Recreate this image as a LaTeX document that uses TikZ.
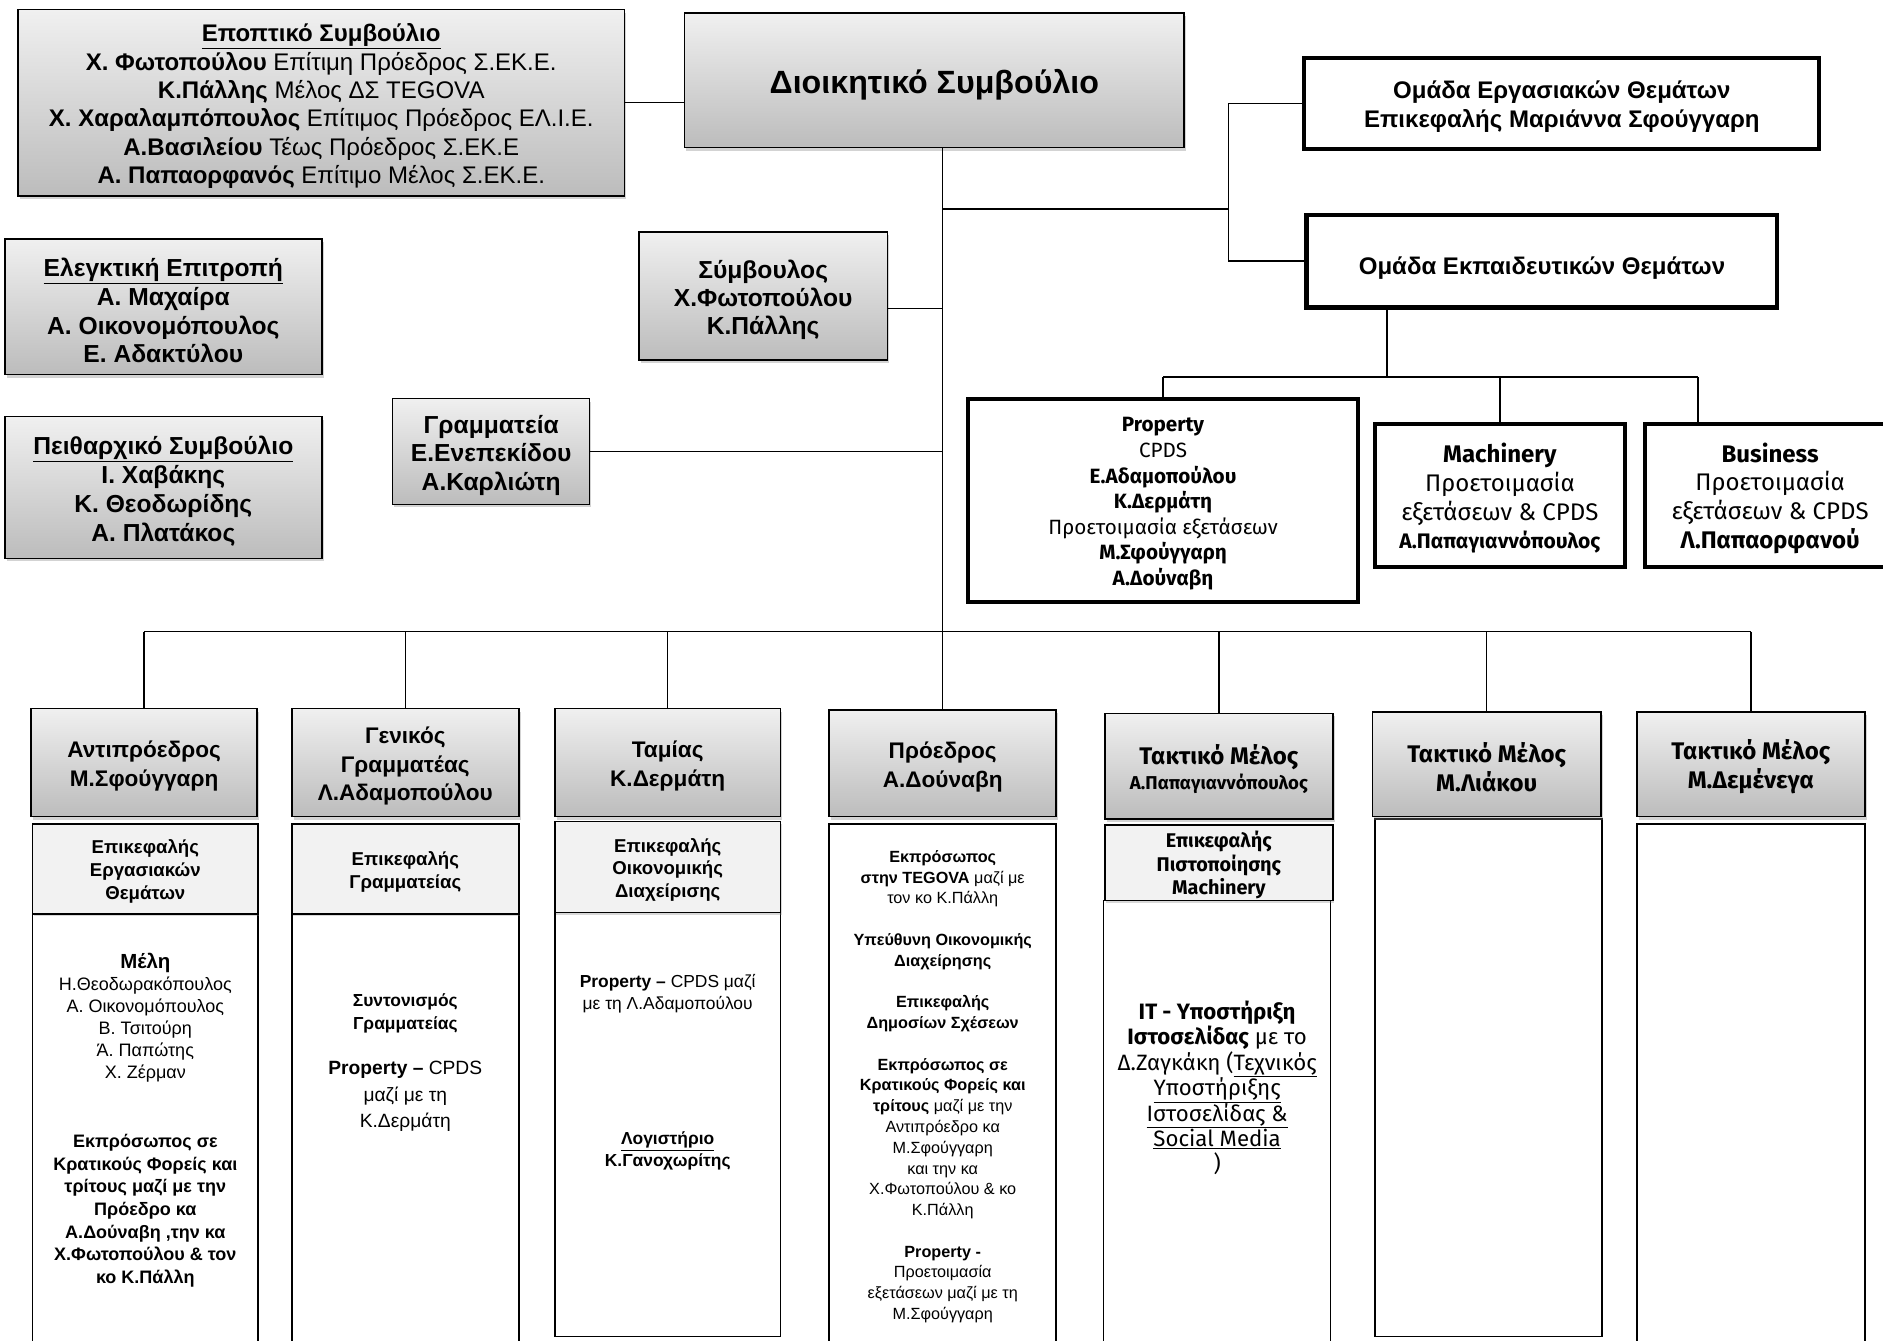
\documentclass[tikz,border=0pt]{standalone}
\usepackage{fontspec}
\setmainfont{Liberation Sans}
\newfontfamily\aptos{Fira Sans}
\usepackage{tikz}
\usetikzlibrary{shadows, positioning}
\usepackage{xcolor}
\definecolor{boxtop}{RGB}{240, 240, 240}
\definecolor{boxbottom}{RGB}{188, 188, 188}
\definecolor{subgray}{RGB}{242, 242, 242}
\newcommand{\fsz}[2]{\fontsize{#1}{#2}\selectfont}
\newcommand{\lead}{\rule{0pt}{1.05em}}

\begin{document}
\begin{tikzpicture}[x=1pt, y=-1pt,
  conn/.style={line width=1.2pt},
  graybox/.style={draw, line width=1.3pt, top color=boxtop, bottom color=boxbottom,
    drop shadow={shadow xshift=1.5pt, shadow yshift=-2.5pt, opacity=0.35},
    align=center, inner sep=1pt},
  thickbox/.style={draw, line width=3.5pt, fill=white, align=center, inner sep=1pt},
  subbox/.style={draw, line width=1.3pt, fill=subgray,
    drop shadow={shadow xshift=1pt, shadow yshift=-2pt, opacity=0.3},
    align=center, inner sep=1pt},
  bodybox/.style={draw, line width=1.3pt, fill=white},
  bodytext/.style={align=center, inner sep=0pt, anchor=north}]

  \useasboundingbox (0,0) rectangle (1568,1116);

  % Boards at the top
  \node[graybox, minimum width=505pt, minimum height=155pt, font=\fsz{20}{23.6}] (epopt) at (267.5,85.5)
    {\lead\textbf{\underline{Εποπτικό Συμβούλιο}}\\
     \textbf{Χ. Φωτοπούλου} Επίτιμη Πρόεδρος Σ.ΕΚ.Ε.\\
     \textbf{Κ.Πάλλης} Μέλος ΔΣ TEGOVA\\
     \textbf{Χ. Χαραλαμπόπουλος} Επίτιμος Πρόεδρος ΕΛ.Ι.Ε.\\
     \textbf{Α.Βασιλείου} Τέως Πρόεδρος Σ.ΕΚ.Ε\\
     \textbf{Α. Παπαορφανός} Επίτιμο Μέλος Σ.ΕΚ.Ε.};
  \node[graybox, minimum width=416pt, minimum height=112pt, font=\fsz{26.8}{30}\bfseries,
    execute at begin node={\rule{0pt}{1em}}] (dioik) at (778,67)
    {Διοικητικό Συμβούλιο};
  \node[graybox, minimum width=264pt, minimum height=113pt, font=\fsz{20.5}{24}\bfseries] (elegk) at (136,255.5)
    {\lead\underline{Ελεγκτική Επιτροπή}\\ Α. Μαχαίρα\\ Α. Οικονομόπουλος\\ Ε. Αδακτύλου};
  \node[graybox, minimum width=264pt, minimum height=118pt, font=\fsz{20.5}{24}\bfseries] (peith) at (136,406)
    {\lead\underline{Πειθαρχικό Συμβούλιο}\\ Ι. Χαβάκης\\ Κ. Θεοδωρίδης\\ Α. Πλατάκος};
  \node[graybox, minimum width=207pt, minimum height=107pt, font=\fsz{20.5}{23.6}\bfseries] (symv) at (635.5,246.5)
    {\lead Σύμβουλος\\ Χ.Φωτοπούλου\\ Κ.Πάλλης};
  \node[graybox, minimum width=164pt, minimum height=88pt, font=\fsz{20.5}{24}\bfseries] (gramm) at (409,376)
    {\lead Γραμματεία\\ Ε.Ενεπεκίδου\\ Α.Καρλιώτη};

  % Working groups
  \node[thickbox, minimum width=429pt, minimum height=76pt, font=\fsz{20}{24}\bfseries] (omerg) at (1300.5,86)
    {\lead Ομάδα Εργασιακών Θεμάτων\\ Επικεφαλής Μαριάννα Σφούγγαρη};
  \node[thickbox, minimum width=392pt, minimum height=77pt, font=\fsz{20}{24}\bfseries,
    execute at begin node={\rule{0pt}{1.3em}}] (omekp) at (1284,217.5)
    {Ομάδα Εκπαιδευτικών Θεμάτων};
  \node[thickbox, minimum width=325pt, minimum height=169pt, font=\aptos\fsz{17.2}{21.3}] (prop) at (968.5,416.5)
    {\lead\textbf{Property}\\ CPDS\\ \textbf{Ε.Αδαμοπούλου}\\ \textbf{Κ.Δερμάτη}\\
     Προετοιμασία εξετάσεων\\ \textbf{Μ.Σφούγγαρη}\\ \textbf{Α.Δούναβη}};
  \node[thickbox, minimum width=208pt, minimum height=119pt, font=\aptos\fsz{20}{24}] (mach) at (1249,412.5)
    {\lead\textbf{Machinery}\\ Προετοιμασία\\ εξετάσεων \& CPDS\\ {\fsz{17.5}{24}\bfseries Α.Παπαγιαννόπουλος}};
  \node[thickbox, minimum width=208pt, minimum height=119pt, font=\aptos\fsz{20}{24}] (busi) at (1474,412.5)
    {\lead\textbf{Business}\\ Προετοιμασία\\ εξετάσεων \& CPDS\\ \textbf{Λ.Παπαορφανού}};

  % Trunk and branches
  \coordinate (bar) at (785,526);
  \coordinate (grp) at (1023,174);
  \coordinate (symvc) at (739,257);
  \coordinate (sub) at (1155,314);
  \coordinate (bd) at (1414,314);
  \draw[conn] (dioik.south -| bar) -- (bar);
  \draw[conn] (epopt.east) -- (epopt.east -| dioik.west);
  \draw[conn] (symv.east |- symvc) -- (bar |- symvc);
  \draw[conn] (gramm.east) -- (gramm.east -| bar);
  \draw[conn] (grp -| bar) -- (grp);
  \draw[conn] (omerg.west) -| (grp);
  \draw[conn] (omekp.west) -| (grp);
  \draw[conn] (omekp.south -| sub) -- (sub);
  \draw[conn] (prop.north |- sub) -- (bd);
  \draw[conn] (prop.north |- sub) -- (prop.north);
  \draw[conn] (mach.north |- sub) -- (mach.north);
  \draw[conn] (bd) -- (bd |- busi.north);

  % Column bodies
  \node[bodybox, minimum width=188pt, minimum height=369pt] (b1) at (121,945.5) {};
  \node[bodybox, minimum width=189pt, minimum height=369pt] (b2) at (337.5,945.5) {};
  \node[bodybox, minimum width=188pt, minimum height=353pt] (b3) at (556,936.5) {};
  \node[bodybox, minimum width=189pt, minimum height=444pt] (b4) at (785,908) {};
  \node[bodybox, minimum width=189pt, minimum height=380pt] (b5) at (1013.5,940) {};
  \node[bodybox, minimum width=189pt, minimum height=431pt] (b6) at (1239.5,897.5) {};
  \node[bodybox, minimum width=190pt, minimum height=444pt] (b7) at (1458,908) {};

  % Board members
  \node[graybox, minimum width=188pt, minimum height=90pt, font=\fsz{18.8}{24}\bfseries] (h1) at (120,635)
    {\lead Αντιπρόεδρος\\ Μ.Σφούγγαρη};
  \node[graybox, minimum width=189pt, minimum height=90pt, font=\fsz{18.8}{24}\bfseries] (h2) at (337.5,635)
    {\lead Γενικός\\ Γραμματέας\\ Λ.Αδαμοπούλου};
  \node[graybox, minimum width=188pt, minimum height=90pt, font=\fsz{18.8}{24}\bfseries] (h3) at (556,635)
    {\lead Ταμίας\\ Κ.Δερμάτη};
  \node[graybox, minimum width=189pt, minimum height=89pt, font=\fsz{18.8}{24}\bfseries] (h4) at (785,635.5)
    {\lead Πρόεδρος\\ Α.Δούναβη};
  \node[graybox, minimum width=190pt, minimum height=88pt, font=\aptos\fsz{20}{21}\bfseries] (h5) at (1015,638)
    {\lead Τακτικό Μέλος\\ {\fsz{15.5}{21}Α.Παπαγιαννόπουλος}};
  \node[graybox, minimum width=190pt, minimum height=87pt, font=\aptos\fsz{20}{24}\bfseries] (h6) at (1238,636.5)
    {\lead Τακτικό Μέλος\\ Μ.Λιάκου};
  \node[graybox, minimum width=190pt, minimum height=87pt, font=\aptos\fsz{20}{24}\bfseries] (h7) at (1458,636.5)
    {\lead Τακτικό Μέλος\\ Μ.Δεμένεγα};

  \draw[conn] (h1.north |- bar) -- (h7.north |- bar);
  \foreach \h in {h1, h2, h3, h5, h6, h7}
    \draw[conn] (\h.north |- bar) -- (\h.north);
  \draw[conn] (bar) -- (h4.north);

  % Roles
  \node[subbox, minimum width=188pt, minimum height=75pt, font=\fsz{15.5}{19}\bfseries] (s1) at (121,723.5)
    {\lead Επικεφαλής\\ Εργασιακών\\ Θεμάτων};
  \node[subbox, minimum width=189pt, minimum height=75pt, font=\fsz{15.5}{19}\bfseries] (s2) at (337.5,723.5)
    {\lead Επικεφαλής\\ Γραμματείας};
  \node[subbox, minimum width=188pt, minimum height=76pt, font=\fsz{15.5}{19}\bfseries] (s3) at (556,722)
    {\lead Επικεφαλής\\ Οικονομικής\\ Διαχείρισης};
  \node[subbox, minimum width=190pt, minimum height=63pt, font=\aptos\fsz{16.5}{19.5}\bfseries] (s5) at (1015,718.5)
    {\lead Επικεφαλής\\ Πιστοποίησης\\ Machinery};

  % Duties
  \node[bodytext, font=\fsz{15}{18.4}] (t1a) at (121,793.5)
    {{\fsz{17}{20}\bfseries Μέλη}\\ Η.Θεοδωρακόπουλος\\ Α. Οικονομόπουλος\\ Β. Τσιτούρη\\ Ά. Παπώτης\\ Χ. Ζέρμαν};
  \node[bodytext, font=\fsz{15}{18.8}\bfseries] (t1b) at (121,944.5)
    {Εκπρόσωπος σε\\ Κρατικούς Φορείς και\\ τρίτους μαζί με την\\ Πρόεδρο κα\\
     Α.Δούναβη ,την κα\\ Χ.Φωτοπούλου \& τον\\ κο Κ.Πάλλη};
  \node[bodytext, font=\fsz{14.5}{19}\bfseries] (t2a) at (337.5,827.5)
    {Συντονισμός\\ Γραμματείας};
  \node[bodytext, font=\fsz{16}{22}] (t2b) at (337.5,883.5)
    {\textbf{Property –} CPDS\\ μαζί με τη\\ Κ.Δερμάτη};
  \node[bodytext, font=\fsz{14.5}{18}] (t3a) at (556,811.5)
    {\textbf{Property –} CPDS μαζί\\ με τη Λ.Αδαμοπούλου};
  \node[bodytext, font=\fsz{14.5}{18}\bfseries] (t3b) at (556,942.5)
    {\underline{Λογιστήριο}\\ Κ.Γανοχωρίτης};
  \node[bodytext, font=\fsz{13.5}{17.3}] (t4) at (785,708)
    {\textbf{Εκπρόσωπος}\\ \textbf{στην TEGOVA} μαζί με\\ τον κο Κ.Πάλλη\\[17.3pt]
     \textbf{Υπεύθυνη Οικονομικής}\\ \textbf{Διαχείρησης}\\[17.3pt]
     \textbf{Επικεφαλής}\\ \textbf{Δημοσίων Σχέσεων}\\[17.3pt]
     \textbf{Εκπρόσωπος σε}\\ \textbf{Κρατικούς Φορείς και}\\ \textbf{τρίτους} μαζί με την\\
     Αντιπρόεδρο κα\\ Μ.Σφούγγαρη\\ και την κα\\ Χ.Φωτοπούλου \& κο\\ Κ.Πάλλη\\[17.3pt]
     \textbf{Property -}\\ Προετοιμασία\\ εξετάσεων μαζί με τη\\ Μ.Σφούγγαρη};
  \node[bodytext, font=\aptos\fsz{18.5}{21.2}] (t5) at (1013.5,833)
    {\textbf{IT - Υποστήριξη}\\ \textbf{Ιστοσελίδας} με το\\ Δ.Ζαγκάκη (\underline{Τεχνικός}\\
     \underline{Υποστήριξης}\\ \underline{Ιστοσελίδας \&}\\ \underline{Social Media}\\ )};

\end{tikzpicture}
\end{document}
